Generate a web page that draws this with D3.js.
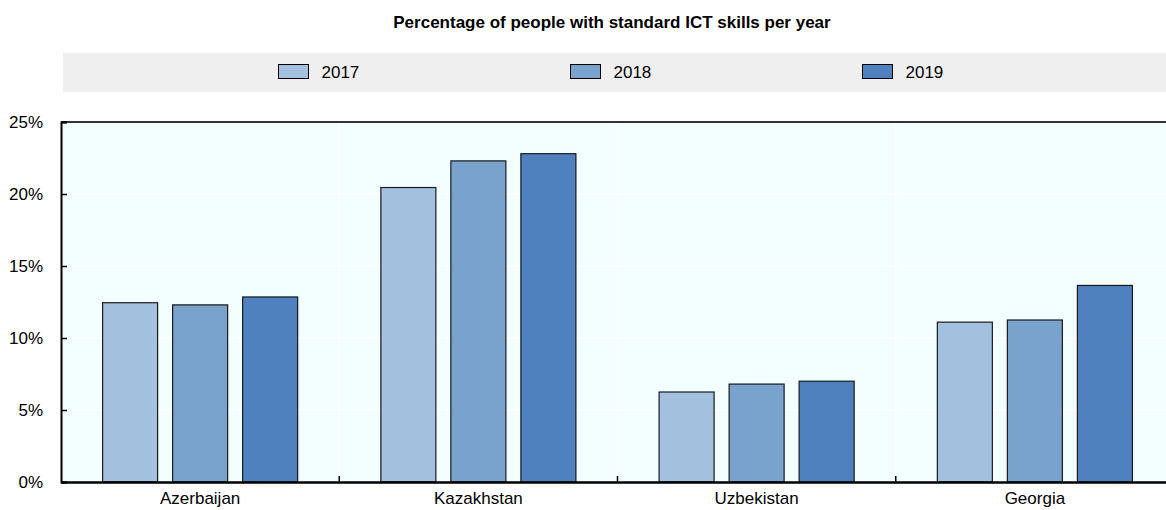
<!DOCTYPE html>
<html>
<head>
<meta charset="utf-8">
<script src="https://cdn.jsdelivr.net/npm/d3@7"></script>
<style>
  body { margin: 0; background: #fff; }
  text { font-family: "Liberation Sans Narrow", "Arial Narrow", "Liberation Sans", Arial, sans-serif; }
</style>
</head>
<body>
<div id="canvas"></div>
<script>
// data
const countries = ["Azerbaijan", "Kazakhstan", "Uzbekistan", "Georgia"];
const years = ["2017", "2018", "2019"];
const v2017 = [12.45, 20.45, 6.25, 11.1];
const v2018 = [12.3, 22.3, 6.8, 11.25];
const v2019 = [12.85, 22.8, 7.0, 13.65];
const yTicks = [0, 5, 10, 15, 20, 25];
const colors = ["#a3c0de", "#79a2cc", "#4e81bd"];

const series = [v2017, v2018, v2019];
const data = countries.map((c, i) => ({
  name: c,
  values: years.map((y, j) => ({ year: y, value: series[j][i] }))
}));

const width = 1166;
const height = 510;
const margin = { top: 122, left: 61, bottom: 28, right: -8 };
const iwidth = width - margin.left - margin.right;
const iheight = height - margin.top - margin.bottom;

const svg = d3.select("#canvas").append("svg")
  .attr("width", width)
  .attr("height", height);

// title
svg.append("text")
  .attr("x", 612)
  .attr("y", 28)
  .attr("text-anchor", "middle")
  .style("font-weight", "bold")
  .style("font-size", "17px")
  .style("fill", "#000")
  .text("Percentage of people with standard ICT skills per year");

// legend
svg.append("rect")
  .attr("x", 63).attr("y", 53)
  .attr("width", width - 63).attr("height", 39)
  .style("fill", "#efefef");

const legend = svg.selectAll(".leg").data(years).enter()
  .append("g")
  .attr("class", "leg")
  .attr("transform", (d, i) => `translate(${278.5 + i * 292}, 64.5)`);
legend.append("rect")
  .attr("width", 30).attr("height", 14)
  .style("fill", (d, i) => colors[i])
  .style("stroke", "#000").style("stroke-width", 1);
legend.append("text")
  .attr("x", 43).attr("y", 13)
  .style("font-size", "17px")
  .text(d => d);

const g = svg.append("g")
  .attr("transform", `translate(${margin.left}, ${margin.top})`);

const y = d3.scaleLinear().domain([0, 25]).range([iheight, 0]);

const x0 = d3.scaleBand().domain(countries).range([0, iwidth]);
const x1 = d3.scaleBand().domain(years).range([0, x0.bandwidth()])
  .paddingInner(15 / 70).paddingOuter(0.594);

// plot background
g.append("rect")
  .attr("width", iwidth).attr("height", iheight)
  .style("fill", "#f2feff");

// grid
g.selectAll(".hgrid").data(yTicks.slice(1, -1)).enter()
  .append("line")
  .attr("x1", 0).attr("x2", iwidth)
  .attr("y1", d => y(d)).attr("y2", d => y(d))
  .style("stroke", "#fff").style("stroke-width", 1.5);

g.selectAll(".vgrid").data(countries.slice(1)).enter()
  .append("line")
  .attr("x1", d => x0(d)).attr("x2", d => x0(d))
  .attr("y1", 0).attr("y2", iheight)
  .style("stroke", "#fff").style("stroke-width", 1.5);

// bars
const groups = g.selectAll(".grp").data(data).enter()
  .append("g")
  .attr("transform", d => `translate(${x0(d.name)}, 0)`);

groups.selectAll("rect").data(d => d.values).enter()
  .append("rect")
  .attr("x", d => x1(d.year))
  .attr("y", d => y(d.value))
  .attr("width", x1.bandwidth())
  .attr("height", d => iheight - y(d.value))
  .style("fill", (d, i) => colors[i])
  .style("stroke", "#1a1a1a")
  .style("stroke-width", 1.2);

// top border
g.append("line")
  .attr("x1", 0).attr("x2", iwidth)
  .attr("y1", 0).attr("y2", 0)
  .style("stroke", "#333").style("stroke-width", 2);

// y axis
const yAxis = g.append("g")
  .call(d3.axisLeft(y).tickValues(yTicks).tickFormat(d => d + "%").tickSize(-6).tickPadding(18));
yAxis.select(".domain").style("stroke", "#000").style("stroke-width", 2);
yAxis.selectAll(".tick line").style("stroke", "#000").style("stroke-width", 1.5);
yAxis.selectAll("text").style("font-size", "17px").style("fill", "#000");

// x axis
const xAxis = g.append("g")
  .attr("transform", `translate(0, ${iheight})`)
  .call(d3.axisBottom(x0).tickSize(0).tickPadding(10));
xAxis.select(".domain").style("stroke", "#000").style("stroke-width", 2.5);
xAxis.selectAll("text").style("font-size", "17px").style("fill", "#000");

g.append("g").selectAll("line").data(countries.slice(1)).enter()
  .append("line")
  .attr("x1", d => x0(d)).attr("x2", d => x0(d))
  .attr("y1", iheight).attr("y2", iheight - 6)
  .style("stroke", "#000").style("stroke-width", 1.5);
</script>
</body>
</html>
